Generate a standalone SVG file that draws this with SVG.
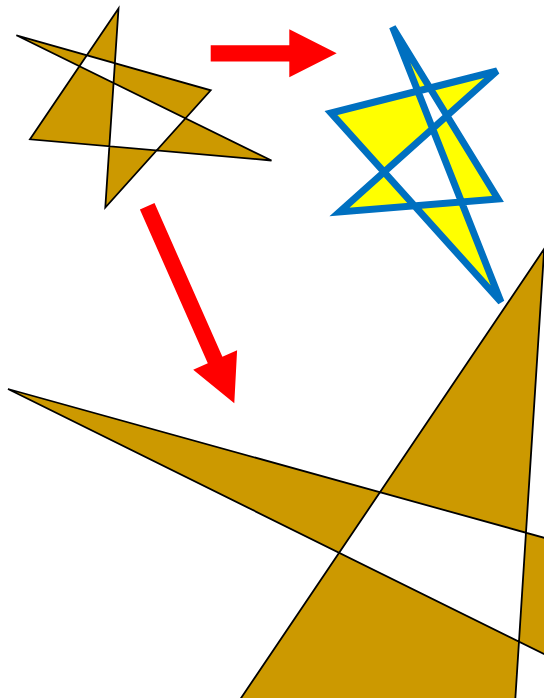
<svg xmlns="http://www.w3.org/2000/svg" width="544" height="698" viewBox="0 0 544 698">
<style>
.star{fill:#CC9900;stroke:#000000;stroke-width:1.8;fill-rule:evenodd}
.star2{fill:#FFFF00;stroke:#0070C0;stroke-width:7;fill-rule:evenodd}
.arrow{fill:#FF0000}
</style>
<rect width="544" height="698" fill="#FFFFFF"/>
<g id="star-original">
<path class="star" d="M118.5,8.5 L105.3,207.5 L210.7,90.3 L16.4,35.3 L271.5,160.5 L30,139.3 Z"/>
</g>
<g id="star-transformed">
<path class="star2" d="M392.5,27 L501,302 L331,113 L497,71 L339.5,212 L498,199 Z"/>
</g>
<g id="star-scaled">
<path class="star" d="M544.2,248.9 L476.7,1300 L1035,674 L8,389 L1355,1055 L79.1,938 Z"/>
</g>
<g id="arrows">
<path class="arrow" d="M210.7,45.2 L289.3,45.2 L289.3,29.3 L336.7,53.3 L289.3,77.3 L289.3,61.4 L210.7,61.4 Z"/>
<path class="arrow" d="M139.9,209.5 L154.5,203.1 L222.4,356.8 L237.1,350.3 L234.3,403.3 L193.2,369.7 L207.8,363.2 Z"/>
</g>
</svg>
